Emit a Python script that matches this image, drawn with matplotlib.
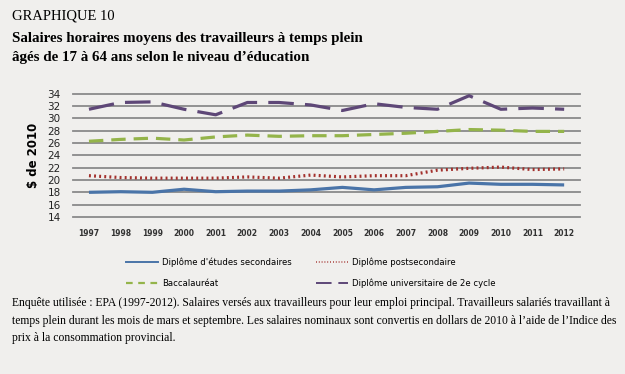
import matplotlib.pyplot as plt
from matplotlib.lines import Line2D

# data
years = list(range(1997, 2013))
secondaire = [18.0, 18.1, 18.0, 18.5, 18.1, 18.2, 18.2, 18.4, 18.8, 18.4, 18.8, 18.9, 19.5, 19.3, 19.3, 19.2]
postsec = [20.7, 20.4, 20.3, 20.3, 20.3, 20.5, 20.3, 20.8, 20.5, 20.7, 20.7, 21.6, 21.9, 22.1, 21.7, 21.8]
bacc = [26.3, 26.6, 26.8, 26.5, 27.0, 27.3, 27.1, 27.2, 27.2, 27.4, 27.6, 27.9, 28.2, 28.1, 27.9, 27.9]
cycle2 = [31.5, 32.6, 32.7, 31.5, 30.6, 32.6, 32.6, 32.2, 31.3, 32.4, 31.8, 31.5, 33.7, 31.5, 31.7, 31.5]
yticks = list(range(14, 35, 2))
labels = ["Diplôme d'études secondaires", 'Diplôme postsecondaire',
          'Baccalauréat', 'Diplôme universitaire de 2e cycle']

bg = '#f0efed'
fig = plt.figure(figsize=(6.25, 3.74), dpi=100, facecolor=bg)
ax = fig.add_axes([0.117, 0.42, 0.811, 0.329])
ax.set_facecolor(bg)

c_blue = '#4a74a8'
c_red = '#a3302c'
c_green = '#94b44a'
c_purple = '#5e4777'
styles = ['-', (0, (0.6, 1.0)), (0, (4.5, 2.5)), (0, (8, 3.5))]
colors = [c_blue, c_red, c_green, c_purple]

for vals, c, ls in zip([secondaire, postsec, bacc, cycle2], colors, styles):
    ax.plot(years, vals, color=c, lw=2.3, linestyle=ls, solid_capstyle='butt')

ax.set_xlim(1996.5, 2012.5)
ax.set_ylim(14, 34)
ax.set_yticks(yticks)
ax.set_xticks(years)
ax.set_xticklabels([str(y) for y in years], fontsize=5.5, fontweight='bold', color='#333333')
ax.set_yticklabels([str(v) for v in yticks], fontsize=7.5, color='#222222')
ax.tick_params(length=0)
ax.tick_params(axis='x', pad=9)
ax.tick_params(axis='y', pad=9)
for v in yticks:
    ax.axhline(v, color='#8a8a8a', lw=1.3, zorder=0, clip_on=False)
for s in ax.spines.values():
    s.set_visible(False)
ax.set_ylabel('$ de 2010', fontsize=8.5, fontweight='bold', labelpad=5)

# titles
fig.text(0.019, 0.957, 'GRAPHIQUE 10', family='Liberation Serif', fontsize=10.5, va='center')
fig.text(0.019, 0.898, 'Salaires horaires moyens des travailleurs à temps plein',
         family='Liberation Serif', fontsize=10.8, fontweight='bold', va='center')
fig.text(0.019, 0.845, 'âgés de 17 à 64 ans selon le niveau d’éducation',
         family='Liberation Serif', fontsize=10.8, fontweight='bold', va='center')

# legend with thin proxy lines
proxies = [Line2D([], [], color=c, lw=1.4, linestyle=ls) for c, ls in zip(colors, styles)]
proxies[1] = Line2D([], [], color=c_red, lw=1.2, linestyle=(0, (0.5, 1.2)))
proxies[2] = Line2D([], [], color=c_green, lw=1.6, linestyle=(0, (3, 2.5)))
order = [0, 2, 1, 3]
fig.legend([proxies[i] for i in order], [labels[i] for i in order],
           ncol=2, loc='center left', bbox_to_anchor=(0.195, 0.27), borderpad=0,
           frameon=False, fontsize=6.1, handlelength=3.8, handletextpad=0.4,
           columnspacing=2.9, labelspacing=1.4)

# note
note = ("Enquête utilisée : EPA (1997-2012). Salaires versés aux travailleurs pour leur emploi principal. "
        "Travailleurs salariés travaillant à\n"
        "temps plein durant les mois de mars et septembre. Les salaires nominaux sont convertis en dollars "
        "de 2010 à l’aide de l’Indice des\n"
        "prix à la consommation provincial.")
fig.text(0.019, 0.206, note, family='Liberation Serif', fontsize=8.4, va='top', linespacing=1.62)

fig.savefig('out.png', dpi=100, facecolor=bg)
